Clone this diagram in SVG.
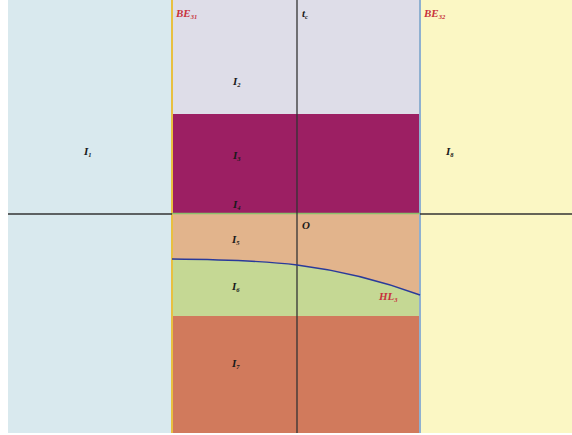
<svg xmlns="http://www.w3.org/2000/svg" width="572" height="435" viewBox="0 0 572 435">
<style>
.lbl{font-family:"Liberation Serif",serif;font-style:italic;font-weight:bold;font-size:11px;fill:#1a1a1a}
.red{font-family:"Liberation Serif",serif;font-style:italic;font-weight:bold;font-size:11px;fill:#c8323c}
.sub{font-size:6.5px}
.axis{stroke:#333;stroke-width:1.3;fill:none}
</style>
<rect width="572" height="435" fill="#ffffff"/>
<g id="left-region">
<rect x="8" y="0" width="164" height="433" fill="#d9e9ee"/>
<text class="lbl" x="84" y="155">I<tspan class="sub" dy="2">1</tspan></text>
</g>
<g id="right-region">
<rect x="420" y="0" width="152" height="433" fill="#fbf7c4"/>
<text class="lbl" x="446" y="155">I<tspan class="sub" dy="2">8</tspan></text>
</g>
<g id="layer-I2">
<rect x="172" y="0" width="248" height="114" fill="#dedde8"/>
<text class="lbl" x="233" y="85">I<tspan class="sub" dy="2">2</tspan></text>
</g>
<g id="layer-I3-I4">
<rect x="172" y="114" width="248" height="99" fill="#9c1f63"/>
<text class="lbl" x="233" y="159">I<tspan class="sub" dy="2">3</tspan></text>
<text class="lbl" x="233" y="208">I<tspan class="sub" dy="2">4</tspan></text>
</g>
<g id="layer-I5">
<rect x="172" y="213" width="248" height="47" fill="#e2b48c"/>
<path d="M172,259 Q260,260 297,265 Q360,273 420,295 L420,213 L172,213 Z" fill="#e2b48c"/>
<text class="lbl" x="232" y="243">I<tspan class="sub" dy="2">5</tspan></text>
</g>
<g id="layer-I6">
<path d="M172,259 Q260,260 297,265 Q360,273 420,295 L420,316 L172,316 Z" fill="#c5d894"/>
<text class="lbl" x="232" y="290">I<tspan class="sub" dy="2">6</tspan></text>
</g>
<g id="layer-I7">
<rect x="172" y="316" width="248" height="117" fill="#d17a5c"/>
<text class="lbl" x="232" y="367">I<tspan class="sub" dy="2">7</tspan></text>
</g>
<g id="connectors">
<line x1="172" y1="0" x2="172" y2="433" stroke="#e8c040" stroke-width="2"/>
<line x1="420" y1="0" x2="420" y2="433" stroke="#8fb0d0" stroke-width="2"/>
<line x1="172" y1="213.5" x2="420" y2="213.5" stroke="#8cc06a" stroke-width="1.5"/>
<line class="axis" x1="8" y1="214" x2="172" y2="214"/>
<line class="axis" x1="420" y1="214" x2="572" y2="214"/>
<line class="axis" x1="297" y1="0" x2="297" y2="433" stroke="#444"/>
<path d="M172,259 Q260,260 297,265 Q360,273 420,295" fill="none" stroke="#2a3a9a" stroke-width="1.4"/>
</g>
<g id="labels">
<text class="red" x="176" y="17">BE<tspan class="sub" dy="2">31</tspan></text>
<text class="red" x="424" y="17">BE<tspan class="sub" dy="2">32</tspan></text>
<text class="lbl" x="302" y="17">t<tspan class="sub" dy="2">c</tspan></text>
<text class="lbl" x="302" y="229">O</text>
<text class="red" x="379" y="300">HL<tspan class="sub" dy="2">3</tspan></text>
</g>
</svg>
